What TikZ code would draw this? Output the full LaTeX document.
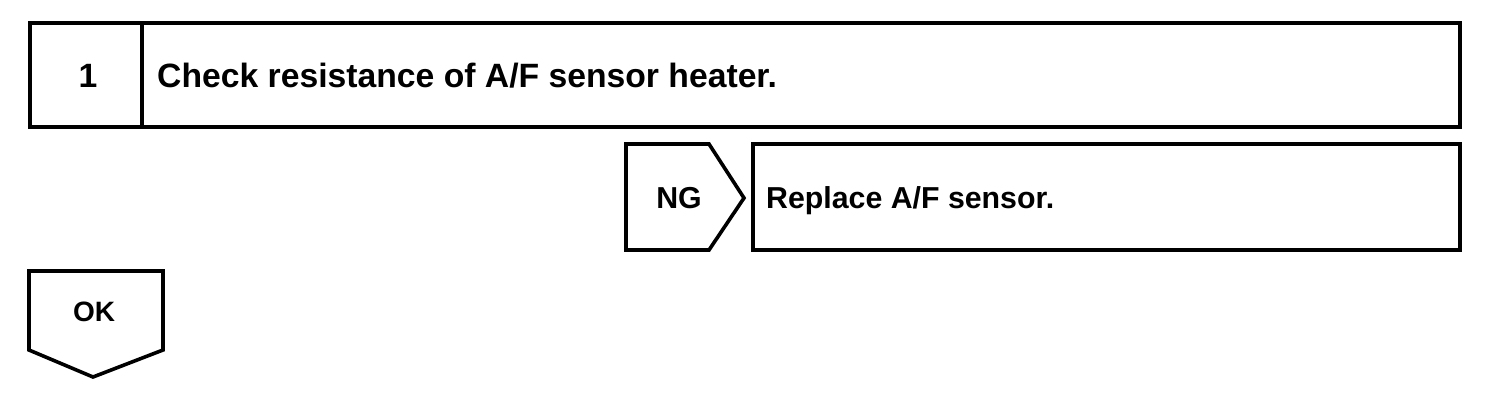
\documentclass[tikz,border=0pt]{standalone}
\usepackage{fontspec}
\setmainfont{Liberation Sans}
\begin{document}
\begin{tikzpicture}[x=1pt,y=-1pt,
  box/.style={draw=black,line width=3.6pt,line join=miter},
  lbl/.style={font=\fontsize{33.7}{40}\selectfont\bfseries,inner sep=0pt},
  sml/.style={font=\fontsize{30.3}{36}\selectfont\bfseries,inner sep=0pt}]
\useasboundingbox (0,0) rectangle (1504,408);
% step box
\draw[box] (30,23) rectangle (1460,127);
\draw[box] (142,23) -- (142,127);
\node[lbl,anchor=base] (n1) at (88,87) {1};
\node[lbl,anchor=base west] (t1) at (157,87) {Check resistance of A/F sensor heater.};
% NG arrow
\draw[box] (626,144) -- (709,144) -- (744,198) -- (709,250) -- (626,250) -- cycle;
\node[sml,anchor=base] (ng) at (679,208) {NG};
% replace box
\draw[box] (753,144) rectangle (1460,250);
\node[sml,anchor=base west] (t2) at (766,208) {Replace A/F sensor.};
% OK arrow
\draw[box] (29,271) -- (163,271) -- (163,350) -- (93,377) -- (29,350) -- cycle;
\node[sml,font=\fontsize{28}{34}\selectfont\bfseries,anchor=base] (ok) at (94,321) {OK};
\end{tikzpicture}
\end{document}
